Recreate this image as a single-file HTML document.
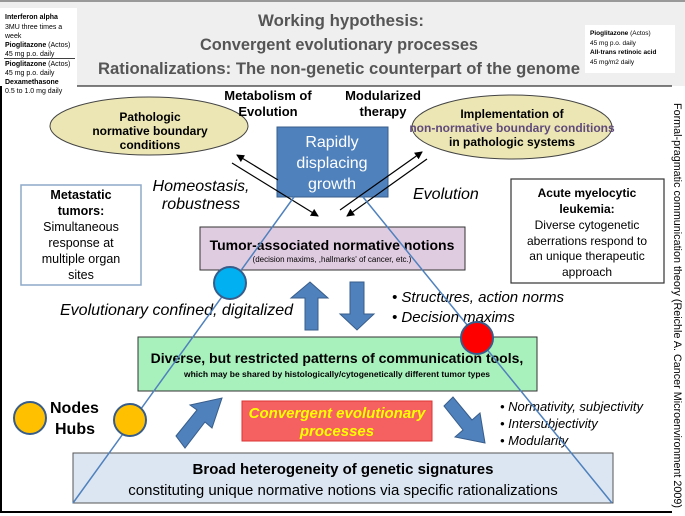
<!DOCTYPE html>
<html><head><meta charset="utf-8"><style>
html,body{margin:0;padding:0;background:#fff;}
svg{display:block;font-family:"Liberation Sans",sans-serif;}
</style></head><body>
<svg width="685" height="516" viewBox="0 0 685 516" xmlns="http://www.w3.org/2000/svg">
<defs>
<marker id="ah" markerWidth="8" markerHeight="8" refX="7" refY="4" orient="auto" markerUnits="userSpaceOnUse"><path d="M0,0 L8,4 L0,8 z" fill="#000"/></marker>
</defs>
<rect x="0" y="0" width="685" height="86" fill="#efefef"/>
<line x1="0" y1="1" x2="685" y2="1" stroke="#999" stroke-width="2"/>
<line x1="0" y1="86" x2="672" y2="86" stroke="#000" stroke-width="1"/>
<g font-weight="bold" fill="#555" font-size="17">
<text x="258" y="26" textLength="166" lengthAdjust="spacingAndGlyphs">Working hypothesis:</text>
<text x="200" y="50" textLength="278" lengthAdjust="spacingAndGlyphs">Convergent evolutionary processes</text>
<text x="98" y="74" textLength="482" lengthAdjust="spacingAndGlyphs">Rationalizations: The non-genetic counterpart of the genome</text>
</g>
<rect x="0" y="8" width="77" height="90" fill="#fff"/>
<g font-size="7" fill="#000">
<text x="5" y="19" font-weight="bold">Interferon alpha</text>
<text x="5" y="29">3MU three times a</text>
<text x="5" y="38">week</text>
<text x="5" y="47"><tspan font-weight="bold">Pioglitazone</tspan> (Actos)</text>
<text x="5" y="56">45 mg p.o. daily</text>
<line x1="4" y1="58.5" x2="75" y2="58.5" stroke="#000" stroke-width="0.8"/>
<text x="5" y="66"><tspan font-weight="bold">Pioglitazone</tspan> (Actos)</text>
<text x="5" y="75">45 mg p.o. daily</text>
<text x="5" y="84" font-weight="bold">Dexamethasone</text>
<text x="5" y="93">0.5 to 1.0 mg daily</text>
</g>
<rect x="585" y="25" width="90" height="48" fill="#fff"/>
<g font-size="6.5" fill="#000">
<text x="590" y="35"><tspan font-weight="bold">Pioglitazone</tspan> (Actos)</text>
<text x="590" y="45">45 mg p.o. daily</text>
<text x="590" y="54" font-weight="bold">All-trans retinoic acid</text>
<text x="590" y="64">45 mg/m2 daily</text>
</g>
<line x1="1" y1="86" x2="1" y2="512" stroke="#000" stroke-width="2"/>
<line x1="0" y1="512" x2="672" y2="512" stroke="#000" stroke-width="2"/>
<ellipse cx="149" cy="126" rx="99" ry="29" fill="#ebe6b4" stroke="#444" stroke-width="1"/>
<g font-weight="bold" font-size="12" text-anchor="middle" fill="#000">
<text x="150" y="121">Pathologic</text>
<text x="150" y="135">normative boundary</text>
<text x="150" y="149">conditions</text>
</g>
<ellipse cx="512" cy="127" rx="100" ry="32" fill="#ebe6b4" stroke="#444" stroke-width="1"/>
<g font-weight="bold" font-size="12" text-anchor="middle">
<text x="512" y="118" fill="#000">Implementation of</text>
<text x="512" y="132" fill="#604a7b">non-normative boundary conditions</text>
<text x="512" y="146" fill="#000">in pathologic systems</text>
</g>
<g font-weight="bold" font-size="13" text-anchor="middle" fill="#000">
<text x="268" y="100">Metabolism of</text>
<text x="268" y="116">Evolution</text>
<text x="383" y="100">Modularized</text>
<text x="383" y="116">therapy</text>
</g>
<rect x="277" y="127" width="111" height="70" fill="#4f81bd" stroke="#385d8a"/>
<g fill="#fff" font-size="16" text-anchor="middle">
<text x="332" y="147">Rapidly</text>
<text x="332" y="168">displacing</text>
<text x="332" y="189">growth</text>
</g>
<g stroke="#000" stroke-width="1.2">
<line x1="278" y1="180" x2="237" y2="155" marker-end="url(#ah)"/>
<line x1="232" y1="163" x2="318" y2="216" marker-end="url(#ah)"/>
<line x1="340" y1="210" x2="422" y2="152" marker-end="url(#ah)"/>
<line x1="427" y1="159" x2="347" y2="216" marker-end="url(#ah)"/>
</g>
<g font-style="italic" font-size="16" fill="#000">
<text x="201" y="191" text-anchor="middle">Homeostasis,</text>
<text x="201" y="209" text-anchor="middle">robustness</text>
<text x="413" y="199">Evolution</text>
</g>
<rect x="21" y="185" width="120" height="100" fill="#fff" stroke="#8ea9c8" stroke-width="1.5"/>
<g font-size="12.5" text-anchor="middle" fill="#000">
<text x="81" y="199" font-weight="bold">Metastatic</text>
<text x="81" y="215" font-weight="bold">tumors:</text>
<text x="81" y="231">Simultaneous</text>
<text x="81" y="247">response at</text>
<text x="81" y="263">multiple organ</text>
<text x="81" y="279">sites</text>
</g>
<rect x="511" y="179" width="153" height="104" fill="#fff" stroke="#333" stroke-width="1.2"/>
<g font-size="12" text-anchor="middle" fill="#000">
<text x="587" y="197" font-weight="bold">Acute myelocytic</text>
<text x="587" y="213" font-weight="bold">leukemia:</text>
<text x="587" y="229">Diverse cytogenetic</text>
<text x="587" y="245">aberrations respond to</text>
<text x="587" y="260">an unique therapeutic</text>
<text x="587" y="276">approach</text>
</g>
<rect x="200" y="227" width="265" height="43" fill="#e0cce0" stroke="#333"/>
<text x="332" y="250" font-weight="bold" font-size="14" text-anchor="middle">Tumor-associated normative notions</text>
<text x="332" y="262" font-size="8" text-anchor="middle">(decision maxims, ,hallmarks' of cancer, etc.)</text>
<path d="M305,330 L305,298 L291,298 L310,282 L328,298 L318,298 L318,330 z" fill="#4f81bd" stroke="#385d8a"/>
<path d="M350,282 L364,282 L364,314 L374,314 L357,330 L340,314 L350,314 z" fill="#4f81bd" stroke="#385d8a"/>
<text x="60" y="315" font-style="italic" font-size="16">Evolutionary confined, digitalized</text>
<g font-style="italic" font-size="15">
<text x="392" y="302">• Structures, action norms</text>
<text x="392" y="322">• Decision maxims</text>
</g>
<rect x="138" y="337" width="399" height="54" fill="#a8f0bc" stroke="#333"/>
<text x="337" y="363" font-weight="bold" font-size="14" text-anchor="middle">Diverse, but restricted patterns of communication tools,</text>
<text x="337" y="377" font-weight="bold" font-size="8.5" text-anchor="middle">which may be shared by histologically/cytogenetically different tumor types</text>
<path d="M176,436 L197,410 L190,405 L222,398 L212,428 L205,422 L185,448 z" fill="#4f81bd" stroke="#385d8a"/>
<path d="M444,406 L453,397 L472,420 L480,413 L485,443 L455,437 L463,430 z" fill="#4f81bd" stroke="#385d8a"/>
<rect x="242" y="401" width="190" height="40" fill="#f56060" stroke="#d33"/>
<text x="337" y="418" font-weight="bold" font-style="italic" font-size="15" fill="#ff0" text-anchor="middle">Convergent evolutionary</text>
<text x="337" y="436" font-weight="bold" font-style="italic" font-size="15" fill="#ff0" text-anchor="middle">processes</text>
<g font-style="italic" font-size="13">
<text x="500" y="411">• Normativity, subjectivity</text>
<text x="500" y="428">• Intersubjectivity</text>
<text x="500" y="445">• Modularity</text>
</g>
<rect x="73" y="453" width="540" height="50" fill="#dce6f2" stroke="#555"/>
<text x="343" y="474" font-weight="bold" font-size="15" text-anchor="middle">Broad heterogeneity of genetic signatures</text>
<text x="343" y="495" font-size="15" text-anchor="middle">constituting unique normative notions via specific rationalizations</text>
<g stroke="#4f81bd" stroke-width="1.5">
<line x1="73" y1="503" x2="294" y2="197"/>
<line x1="612" y1="503" x2="363" y2="197"/>
</g>
<circle cx="230" cy="283" r="16" fill="#00b0f0" stroke="#385d8a" stroke-width="2"/>
<circle cx="477" cy="338" r="16" fill="#f00" stroke="#385d8a" stroke-width="2"/>
<circle cx="130" cy="420" r="16" fill="#ffc000" stroke="#385d8a" stroke-width="2"/>
<circle cx="30" cy="418" r="16" fill="#ffc000" stroke="#385d8a" stroke-width="2"/>
<g font-weight="bold" font-size="16" fill="#000">
<text x="50" y="413">Nodes</text>
<text x="55" y="434">Hubs</text>
</g>
<text transform="translate(674,103) rotate(90)" font-size="11" fill="#000" textLength="405" lengthAdjust="spacingAndGlyphs">Formal-pragmatic communication theory (Reichle A. Cancer Microenvironment 2009)</text>
</svg>
</body></html>
